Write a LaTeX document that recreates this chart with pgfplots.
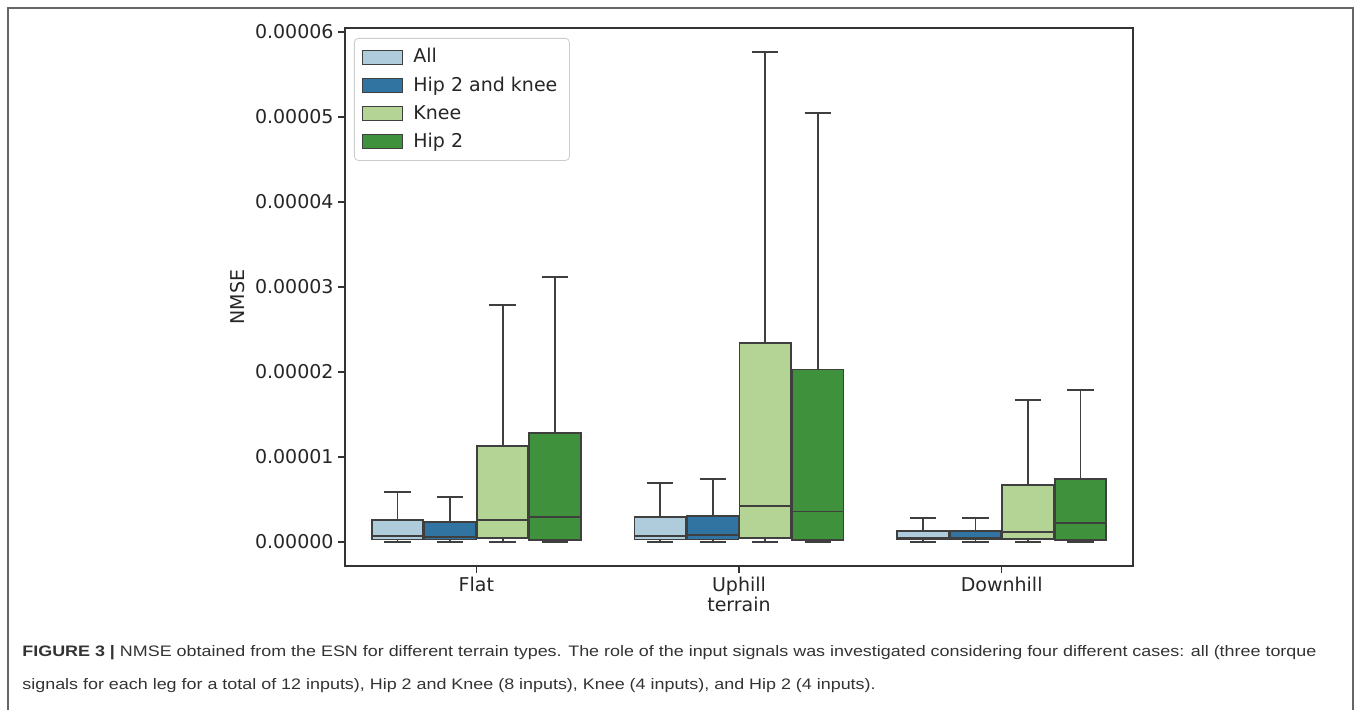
\documentclass[border=0pt]{standalone}
\usepackage{pgfplots}
\pgfplotsset{compat=1.18}
\usepgfplotslibrary{statistics}
\usepackage{graphicx}
\usepackage{fontspec}
\setmainfont{DejaVu Sans}
\newfontfamily\capfont{Liberation Sans}
\definecolor{cA}{HTML}{AECCDB}
\definecolor{cB}{HTML}{3274A1}
\definecolor{cC}{HTML}{B3D495}
\definecolor{cD}{HTML}{40913B}
\definecolor{edge}{HTML}{3F3F3F}
\definecolor{axgray}{HTML}{333333}
\definecolor{frame}{HTML}{666666}
\definecolor{legfr}{HTML}{CCCCCC}
% values below are NMSE in units of 1e-5
\pgfplotsset{
  boxplot/every whisker/.style={line width=0.9pt, draw=edge},
  boxplot/every median/.style={line width=0.9pt, draw=edge},
  boxplot/every box/.style={line width=0.9pt, draw=edge},
  bx/.style n args={6}{boxplot prepared={draw direction=y, draw position=#1, box extend=0.196, whisker extend=0.1,
     lower whisker=#2, lower quartile=#3, median=#4, upper quartile=#5, upper whisker=#6},
     draw=edge, line width=0.9pt, forget plot},
}
\begin{document}
\begin{tikzpicture}
\path[use as bounding box] (-172.5pt,-72pt) rectangle (506.5pt,283pt);
\draw[line width=0.8pt, frame] (-168.5pt,-73pt) -- (-168.5pt,279pt) -- (504pt,279pt) -- (504pt,-73pt);
\begin{axis}[at={(0,0)}, anchor=south west, scale only axis, width=394pt, height=269pt,
  xmin=-0.5, xmax=2.5, ymin=-0.282, ymax=6.047,
  xtick={0,1,2}, xticklabels={Flat,Uphill,Downhill},
  ytick={0,1,2,3,4,5,6},
  yticklabels={0.00000,0.00001,0.00002,0.00003,0.00004,0.00005,0.00006},
  /pgf/number format/assume math mode=true,
  tick align=outside, major tick length=3.5pt,
  xtick pos=bottom, ytick pos=left,
  tick style={line width=0.6pt, color=axgray},
  axis line style={line width=0.6pt, color=axgray},
  font=\fontsize{9.5}{11}\selectfont,
  ticklabel style={text=black!85},
  yticklabel style={inner sep=2pt},
  xticklabel style={inner sep=2pt},
  xlabel={terrain}, ylabel={NMSE},
  xlabel style={at={(axis description cs:0.5,-0.0706)}, anchor=center, text=black!85},
  ylabel style={at={(axis description cs:-0.1358,0.5)}, anchor=center, text=black!85},
  legend image code/.code={\draw[#1, line width=0.5pt, sharp corners, fill opacity=1, draw opacity=1] (0pt,-3.5pt) rectangle (20pt,3.5pt);},
  legend style={at={(0,1)}, anchor=north west, xshift=4.5pt, yshift=-5pt,
    draw=legfr, rounded corners=2pt, fill=white, fill opacity=0.8, text opacity=1,
    inner xsep=4pt, inner ysep=3pt, row sep=1.5pt,
    font=\fontsize{9.5}{11}\selectfont, text=black!85,
    /tikz/every odd column/.append style={column sep=3pt}},
  legend cell align=left,
]
\addlegendimage{fill=cA, draw=edge}\addlegendentry{All}
\addlegendimage{fill=cB, draw=edge}\addlegendentry{Hip 2 and knee}
\addlegendimage{fill=cC, draw=edge}\addlegendentry{Knee}
\addlegendimage{fill=cD, draw=edge}\addlegendentry{Hip 2}
% Flat
\addplot[bx={-0.3}{0}{0.03}{0.07}{0.26}{0.59}, fill=cA] coordinates {};
\addplot[bx={-0.1}{0}{0.03}{0.06}{0.235}{0.53}, fill=cB] coordinates {};
\addplot[bx={0.1}{0}{0.05}{0.26}{1.13}{2.79}, fill=cC] coordinates {};
\addplot[bx={0.3}{0}{0.02}{0.29}{1.28}{3.12}, fill=cD] coordinates {};
% Uphill
\addplot[bx={0.7}{0}{0.03}{0.07}{0.29}{0.69}, fill=cA] coordinates {};
\addplot[bx={0.9}{0}{0.03}{0.08}{0.31}{0.74}, fill=cB] coordinates {};
\addplot[bx={1.1}{0}{0.05}{0.42}{2.34}{5.76}, fill=cC] coordinates {};
\addplot[bx={1.3}{0}{0.02}{0.36}{2.03}{5.05}, fill=cD] coordinates {};
% Downhill
\addplot[bx={1.7}{0}{0.03}{0.05}{0.13}{0.28}, fill=cA] coordinates {};
\addplot[bx={1.9}{0}{0.03}{0.05}{0.13}{0.28}, fill=cB] coordinates {};
\addplot[bx={2.1}{0}{0.04}{0.12}{0.67}{1.67}, fill=cC] coordinates {};
\addplot[bx={2.3}{0}{0.02}{0.22}{0.74}{1.79}, fill=cD] coordinates {};
\end{axis}
\node[anchor=base west, inner sep=0pt] at (-161.5pt,-45.5pt) {\resizebox{647pt}{\height}{\capfont\fontsize{7.6}{16.5}\selectfont\color{black!80}\begin{tabular}[t]{@{}l@{}}\textbf{FIGURE 3 |} NMSE obtained from the ESN for different terrain types. The role of the input signals was investigated considering four different cases: all (three torque\\
signals for each leg for a total of 12 inputs), Hip 2 and Knee (8 inputs), Knee (4 inputs), and Hip 2 (4 inputs).\end{tabular}}};
\end{tikzpicture}
\end{document}
